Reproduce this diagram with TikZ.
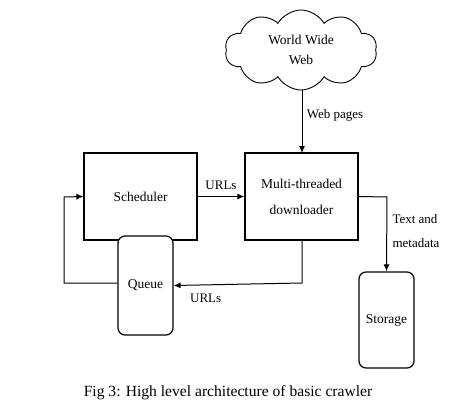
\documentclass[tikz,border=0pt]{standalone}
\usepackage{fontspec}
\setmainfont{Liberation Serif}
\usetikzlibrary{shapes.symbols,arrows.meta}
\begin{document}
\begin{tikzpicture}[x=1pt,y=-1pt,
  box/.style={draw,line width=1.2pt,inner sep=0pt},
  rbox/.style={draw,line width=1.2pt,rounded corners=7pt,inner sep=0pt},
  lbl/.style={font=\fontsize{13}{15}\selectfont},
  conn/.style={line width=1pt,-{Latex[length=7pt,width=6pt]}},
  line/.style={line width=1pt}]
\useasboundingbox (0,0) rectangle (459,410);
\node[cloud,draw,line width=0.9pt,cloud puffs=10,cloud puff arc=120,aspect=1.9,minimum width=152pt,minimum height=80pt,align=center,font=\fontsize{13.5}{20}\selectfont] (www) at (301,50) {World Wide\\Web};
\node[box,minimum width=113pt,minimum height=87pt,font=\fontsize{13.5}{16}\selectfont] (sch) at (140.5,196.5) {Scheduler};
\node[box,minimum width=113pt,minimum height=87pt,align=center,font=\fontsize{13.5}{26}\selectfont] (dl) at (301.5,196.5) {Multi-threaded\\downloader};
\node[rbox,fill=white,minimum width=55pt,minimum height=99pt,font=\fontsize{13.5}{16}\selectfont] (q) at (145.5,285.5) {Queue};
\node[rbox,minimum width=55pt,minimum height=96pt,font=\fontsize{13.5}{16}\selectfont] (st) at (386.5,320) {Storage};
\coordinate (wb) at (302,90);
\draw[conn] (wb) -- (302,153) node[lbl,midway,right=1pt,yshift=6pt] {Web pages};
\draw[conn] (sch.east) -- (dl.west) node[lbl,midway,above=3pt] {URLs};
\coordinate (c1) at (302,283);
\draw[conn] (302,240) -- (c1) -- (q.east) node[lbl,pos=0.75,below=5pt] {URLs};
\coordinate (c2) at (64,283);
\coordinate (c3) at (64,197);
\draw[conn] (q.west|-c2) -- (c2) -- (c3) -- (sch.west);
\coordinate (c4) at (387,197);
\draw[conn] (dl.east) -- (c4) -- (st.north);
\node[lbl,anchor=west] (tm) at (389,219) {Text and};
\node[lbl,anchor=west] (md) at (389,243) {metadata};
\node[font=\fontsize{15.6}{18}\selectfont] (cap) at (228,393) {Fig 3: High level architecture of basic crawler};
\end{tikzpicture}
\end{document}
